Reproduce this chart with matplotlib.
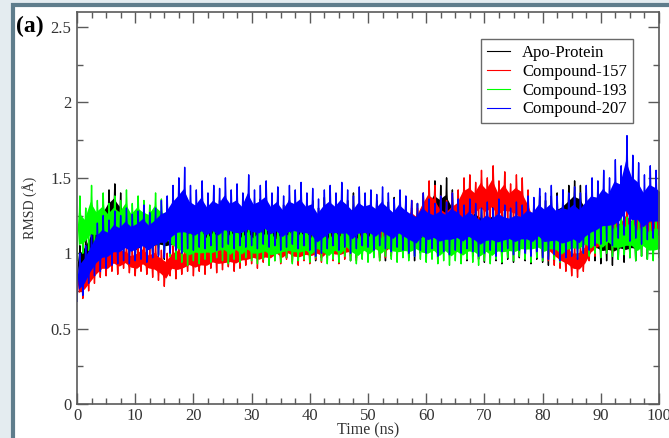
import numpy as np
import matplotlib
matplotlib.use("Agg")
import matplotlib.pyplot as plt
from matplotlib.patches import Rectangle

plt.rcParams['font.family'] = ['Liberation Serif', 'DejaVu Serif']

# time axis (ns), one sample per ns
time_ns = np.arange(0, 101)

labels = ['Apo-Protein', 'Compound-157', 'Compound-193', 'Compound-207']
colors = ['#000000', '#ff0000', '#00ff00', '#0000ff']

# lower / upper envelope of each RMSD trace (Å)
apo_lo = [0.80, 0.85, 0.90, 0.95, 1.00, 1.05, 1.08, 1.05, 1.00, 0.97,
          0.96, 0.98, 0.95, 0.97, 0.99, 0.96, 0.98, 1.00, 0.98, 1.00,
          0.98, 1.00, 0.97, 0.99, 1.01, 0.98, 1.00, 0.97, 0.99, 1.00,
          0.98, 1.00, 0.97, 0.99, 0.98, 1.00, 0.97, 0.99, 1.00, 0.96,
          0.98, 0.95, 0.97, 1.00, 0.98, 0.96, 0.99, 0.95, 0.97, 0.98,
          0.96, 0.99, 0.97, 0.95, 0.98, 0.96, 0.99, 0.97, 0.95, 1.00,
          1.05, 1.10, 1.08, 1.05, 1.00, 1.00, 0.97, 0.95, 0.98, 0.96,
          0.94, 0.97, 0.95, 0.93, 0.96, 0.94, 0.97, 0.95, 0.93, 0.96,
          0.94, 0.92, 0.95, 0.97, 1.02, 1.08, 1.10, 1.02, 0.98, 0.95,
          0.93, 0.95, 0.92, 0.96, 0.94, 0.97, 0.95, 0.98, 0.96, 0.99,
          0.98]
apo_hi = [1.05, 1.10, 1.18, 1.25, 1.35, 1.42, 1.46, 1.40, 1.30, 1.25,
          1.22, 1.28, 1.25, 1.30, 1.27, 1.32, 1.30, 1.35, 1.30, 1.33,
          1.30, 1.35, 1.32, 1.28, 1.35, 1.30, 1.33, 1.37, 1.30, 1.34,
          1.32, 1.36, 1.30, 1.34, 1.38, 1.32, 1.35, 1.30, 1.36, 1.33,
          1.35, 1.30, 1.37, 1.33, 1.38, 1.32, 1.35, 1.40, 1.33, 1.36,
          1.32, 1.35, 1.30, 1.34, 1.37, 1.32, 1.35, 1.30, 1.33, 1.38,
          1.42, 1.48, 1.45, 1.50, 1.42, 1.38, 1.35, 1.32, 1.36, 1.33,
          1.30, 1.34, 1.30, 1.33, 1.29, 1.32, 1.35, 1.30, 1.34, 1.38,
          1.35, 1.38, 1.40, 1.42, 1.45, 1.48, 1.45, 1.40, 1.35, 1.30,
          1.28, 1.25, 1.30, 1.26, 1.28, 1.24, 1.27, 1.30, 1.25, 1.28,
          1.30]

c157_lo = [0.68, 0.70, 0.75, 0.80, 0.84, 0.85, 0.88, 0.86, 0.90, 0.87,
           0.85, 0.88, 0.86, 0.84, 0.82, 0.78, 0.85, 0.83, 0.86, 0.88,
           0.85, 0.88, 0.86, 0.90, 0.87, 0.89, 0.91, 0.88, 0.90, 0.92,
           0.93, 0.90, 0.94, 0.92, 0.95, 0.93, 0.96, 0.94, 0.92, 0.95,
           0.93, 0.96, 0.94, 0.97, 0.95, 0.93, 0.96, 0.98, 0.95, 0.97,
           0.96, 0.98, 0.95, 0.97, 0.99, 1.00, 1.02, 1.05, 1.08, 1.10,
           1.12, 1.10, 1.05, 1.03, 1.03, 1.08, 1.15, 1.18, 1.20, 1.22,
           1.20, 1.22, 1.18, 1.20, 1.22, 1.18, 1.15, 1.08, 1.02, 1.00,
           0.98, 0.95, 0.92, 0.90, 0.88, 0.85, 0.84, 0.88, 0.95, 0.98,
           1.00, 1.02, 1.00, 1.03, 1.05, 1.02, 1.04, 1.06, 1.03, 1.05,
           1.06]
c157_hi = [0.92, 0.95, 1.00, 1.05, 1.08, 1.05, 1.10, 1.08, 1.05, 1.02,
           1.05, 1.08, 1.03, 1.06, 1.02, 1.00, 1.05, 1.08, 1.04, 1.06,
           1.08, 1.05, 1.10, 1.07, 1.12, 1.08, 1.05, 1.10, 1.12, 1.08,
           1.10, 1.14, 1.08, 1.12, 1.15, 1.10, 1.13, 1.10, 1.15, 1.12,
           1.15, 1.12, 1.10, 1.16, 1.13, 1.18, 1.15, 1.12, 1.16, 1.20,
           1.15, 1.18, 1.22, 1.18, 1.25, 1.20, 1.28, 1.35, 1.30, 1.40,
           1.48, 1.45, 1.38, 1.35, 1.40, 1.42, 1.50, 1.52, 1.47, 1.55,
           1.50, 1.58, 1.48, 1.54, 1.46, 1.52, 1.50, 1.42, 1.32, 1.28,
           1.25, 1.20, 1.15, 1.10, 1.08, 1.05, 1.06, 1.10, 1.18, 1.22,
           1.25, 1.28, 1.30, 1.25, 1.32, 1.28, 1.30, 1.26, 1.30, 1.32,
           1.30]

c193_lo = [0.95, 1.00, 1.02, 1.05, 1.04, 1.06, 1.08, 1.05, 1.07, 1.06,
           1.08, 1.05, 1.07, 1.06, 1.04, 1.02, 0.98, 0.96, 0.94, 0.92,
           0.95, 0.93, 0.96, 0.94, 0.97, 0.95, 0.93, 0.96, 0.94, 0.97,
           0.95, 0.93, 0.96, 0.92, 0.95, 0.94, 0.97, 0.93, 0.95, 0.96,
           0.94, 0.97, 0.95, 0.93, 0.96, 0.94, 0.98, 0.95, 0.93, 0.96,
           0.94, 0.97, 0.95, 0.98, 0.96, 0.94, 0.97, 0.95, 0.98, 0.96,
           0.94, 0.96, 0.93, 0.95, 0.92, 0.95, 0.93, 0.96, 0.94, 0.92,
           0.95, 0.93, 0.96, 0.94, 0.97, 0.95, 0.98, 0.96, 0.94, 0.97,
           0.95, 0.98, 0.96, 0.94, 0.97, 0.99, 0.97, 1.00, 0.98, 1.00,
           0.97, 1.00, 0.98, 0.96, 0.99, 0.97, 0.95, 0.98, 0.96, 0.95,
           0.97]
c193_hi = [1.38, 1.30, 1.45, 1.35, 1.40, 1.33, 1.38, 1.35, 1.42, 1.33,
           1.38, 1.35, 1.32, 1.40, 1.36, 1.33, 1.30, 1.25, 1.22, 1.20,
           1.18, 1.22, 1.15, 1.20, 1.17, 1.25, 1.18, 1.22, 1.16, 1.20,
           1.15, 1.22, 1.18, 1.20, 1.14, 1.22, 1.17, 1.25, 1.18, 1.20,
           1.16, 1.22, 1.18, 1.15, 1.20, 1.17, 1.23, 1.18, 1.15, 1.20,
           1.17, 1.22, 1.15, 1.20, 1.18, 1.22, 1.16, 1.20, 1.18, 1.15,
           1.18, 1.20, 1.15, 1.22, 1.17, 1.20, 1.16, 1.18, 1.22, 1.17,
           1.20, 1.15, 1.18, 1.22, 1.16, 1.20, 1.18, 1.23, 1.30, 1.25,
           1.20, 1.18, 1.22, 1.16, 1.20, 1.17, 1.22, 1.25, 1.20, 1.28,
           1.25, 1.30, 1.22, 1.28, 1.24, 1.30, 1.22, 1.26, 1.20, 1.24,
           1.22]

c207_lo = [0.68, 0.72, 0.80, 0.85, 0.88, 0.90, 0.92, 0.93, 0.95, 0.93,
           0.95, 0.96, 0.94, 0.97, 0.98, 0.97, 1.00, 1.02, 1.00, 1.03,
           1.02, 1.04, 1.03, 1.05, 1.02, 1.04, 1.06, 1.03, 1.05, 1.04,
           1.05, 1.03, 1.06, 1.04, 1.05, 1.02, 1.04, 1.06, 1.03, 1.05,
           1.02, 0.98, 1.00, 1.03, 1.05, 1.02, 1.04, 1.00, 1.03, 1.05,
           1.04, 1.02, 1.05, 1.03, 1.01, 1.04, 1.02, 1.00, 0.98, 1.02,
           1.00, 1.03, 0.98, 1.01, 0.99, 1.02, 1.00, 1.03, 1.01, 0.98,
           1.00, 1.02, 0.98, 1.01, 1.03, 0.99, 1.02, 1.00, 0.98, 1.01,
           0.97, 0.96, 0.99, 0.95, 0.97, 0.98, 0.96, 1.00, 1.02, 1.05,
           1.06, 1.08, 1.05, 1.10, 1.12, 1.08, 1.10, 1.06, 1.09, 1.10,
           1.12]
c207_hi = [1.00, 1.05, 1.12, 1.20, 1.25, 1.22, 1.28, 1.25, 1.30, 1.26,
           1.28, 1.32, 1.27, 1.30, 1.35, 1.38, 1.45, 1.50, 1.57, 1.45,
           1.42, 1.48, 1.40, 1.45, 1.43, 1.50, 1.42, 1.46, 1.40, 1.52,
           1.42, 1.45, 1.48, 1.40, 1.44, 1.38, 1.45, 1.42, 1.47, 1.40,
           1.43, 1.36, 1.42, 1.45, 1.40, 1.47, 1.42, 1.38, 1.44, 1.40,
           1.42, 1.39, 1.44, 1.40, 1.36, 1.42, 1.38, 1.35, 1.33, 1.40,
           1.36, 1.33, 1.38, 1.34, 1.40, 1.36, 1.32, 1.36, 1.33, 1.30,
           1.34, 1.30, 1.36, 1.32, 1.30, 1.34, 1.32, 1.38, 1.37, 1.43,
           1.40, 1.45, 1.38, 1.42, 1.40, 1.44, 1.40, 1.45, 1.50, 1.48,
           1.55, 1.50, 1.62, 1.58, 1.78, 1.65, 1.60, 1.52, 1.58, 1.55,
           1.50]

series = [(apo_lo, apo_hi), (c157_lo, c157_hi), (c193_lo, c193_hi), (c207_lo, c207_hi)]

W, H = 669, 438
fig = plt.figure(figsize=(W / 100, H / 100), dpi=100)
fig.patch.set_facecolor('#e4ecf0')

# slate frame around the white panel
frame = Rectangle((13 / W, -0.1), 1.1, 1 - 4.5 / H + 0.1, transform=fig.transFigure,
                  facecolor='white', edgecolor='#5f7d8c', linewidth=3.0, zorder=-5)
fig.add_artist(frame)

ax = fig.add_axes([77 / W, 1 - 404 / H, (659 - 77) / W, (404 - 12) / H])
ax.set_zorder(2)
ax.set_facecolor('white')

core = 0.25  # share of the envelope left as thin spikes on each side of the dense core
w = 0.07     # half width of a spike (ns)
for (lo, hi), c, lab in zip(series, colors, labels):
    lo = np.asarray(lo)
    hi = np.asarray(hi)
    span = hi - lo
    c_lo = lo + core * span
    c_hi = hi - core * span
    ax.fill_between(time_ns + 0.25, c_lo, c_hi, color=c, lw=0, zorder=2)
    # one downward and one upward spike per ns
    n = len(time_ns)
    x = np.empty(6 * n)
    y = np.empty(6 * n)
    x[0::6], y[0::6] = time_ns - w, c_lo
    x[1::6], y[1::6] = time_ns, lo
    x[2::6], y[2::6] = time_ns + w, c_lo
    x[3::6], y[3::6] = time_ns + 0.5 - w, c_hi
    x[4::6], y[4::6] = time_ns + 0.5, hi
    x[5::6], y[5::6] = time_ns + 0.5 + w, c_hi
    ax.plot(x, y, color=c, lw=1.0, label=lab, zorder=2)

ax.set_xlim(0, 100)
ax.set_ylim(0, 2.6)
ax.set_xticks(np.arange(0, 101, 10))
ax.set_xticks(np.arange(0, 101, 2.5), minor=True)
ax.set_yticks([0, 0.5, 1, 1.5, 2, 2.5])
ax.set_yticklabels(['0', '0.5', '1', '1.5', '2', '2.5'])
ax.set_yticks(np.arange(0, 2.6, 0.25), minor=True)
ax.set_xticklabels([str(v) for v in range(0, 101, 10)])

for s in ax.spines.values():
    s.set_color('#5a5a5a')
    s.set_linewidth(1.2)
    s.set_zorder(3)

ax.tick_params(which='both', direction='in', top=True, right=True, colors='#5a5a5a',
               labelcolor='#333333', labelsize=12, width=1.0)
ax.tick_params(which='major', length=8)
ax.tick_params(which='minor', length=4.5)
ax.tick_params(axis='y', pad=4)
ax.tick_params(axis='x', pad=3)

ax.set_xlabel('Time (ns)', fontsize=11.5, color='#333333', labelpad=-1)
ax.set_ylabel('RMSD (Å)', fontsize=10, color='#333333', labelpad=10)

fig.text(16 / W, 1 - 26 / H, '(a)', fontsize=17, fontweight='bold', va='center',
         ha='left', zorder=10)

leg = ax.legend(loc='upper right', bbox_to_anchor=(0.955, 0.931), borderaxespad=0,
                fontsize=12, frameon=True, fancybox=False, handlelength=1.4,
                handletextpad=0.7, labelspacing=0.17, borderpad=0.35)
leg.get_frame().set_edgecolor('#444444')
leg.get_frame().set_linewidth(1.0)
leg.set_zorder(5)
for l in leg.get_lines():
    l.set_linewidth(0.8)

fig.savefig('out.png', dpi=100, facecolor=fig.get_facecolor())
